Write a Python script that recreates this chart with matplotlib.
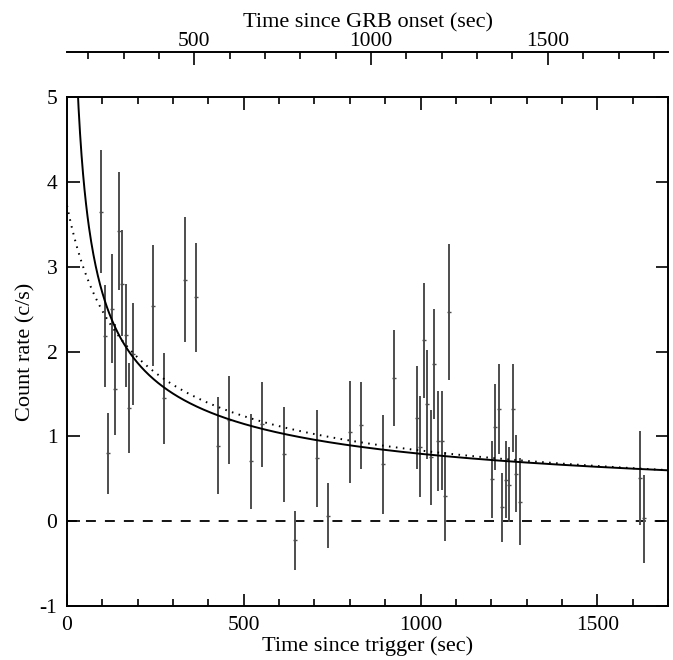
import numpy as np
import matplotlib
matplotlib.use("Agg")
import matplotlib.pyplot as plt

plt.rcParams["font.family"] = ["Liberation Serif", "DejaVu Serif"]

# --------------------------------------------------
# Data
# --------------------------------------------------

t_trig = [96, 107, 116, 126, 136, 147, 156, 166, 175, 186,
          243, 273, 333, 365, 427, 459, 520, 551, 613, 645,
          707, 738, 801, 832, 894, 926, 989, 999, 1009, 1019,
          1030, 1039, 1049, 1060, 1069, 1080, 1201, 1211, 1221, 1231,
          1241, 1250, 1261, 1270, 1281, 1621, 1631]

rate = [3.65, 2.18, 0.80, 2.50, 1.56, 3.42, 2.79, 2.19, 1.34, 1.97,
        2.54, 1.45, 2.84, 2.64, 0.89, 1.19, 0.71, 1.15, 0.79, -0.22,
        0.75, 0.06, 1.05, 1.13, 0.67, 1.69, 1.22, 0.88, 2.13, 1.38,
        0.76, 1.85, 0.94, 0.95, 0.30, 2.47, 0.50, 1.11, 1.32, 0.17,
        0.48, 0.43, 1.32, 0.56, 0.23, 0.51, 0.04]

rate_hi = [4.37, 2.78, 1.28, 3.15, 2.33, 4.12, 3.43, 2.80, 1.86, 2.57,
           3.25, 1.98, 3.58, 3.28, 1.46, 1.71, 1.26, 1.64, 1.35, 0.12,
           1.31, 0.45, 1.65, 1.64, 1.25, 2.25, 1.83, 1.47, 2.81, 2.02,
           1.31, 2.50, 1.53, 1.54, 0.82, 3.27, 0.95, 1.62, 1.85, 0.57,
           0.94, 0.87, 1.85, 1.01, 0.74, 1.06, 0.55]

rate_lo = [2.93, 1.58, 0.32, 1.86, 1.01, 2.72, 2.18, 1.58, 0.80, 1.37,
           1.83, 0.91, 2.11, 2.00, 0.32, 0.67, 0.14, 0.64, 0.23, -0.57,
           0.17, -0.32, 0.45, 0.62, 0.09, 1.12, 0.61, 0.29, 1.45, 0.73,
           0.19, 1.20, 0.35, 0.37, -0.23, 1.66, 0.04, 0.60, 0.79, -0.24,
           0.04, -0.01, 0.81, 0.11, -0.28, -0.04, -0.49]

# model curves (power laws)
pl_trig_norm, pl_trig_index = 30.9, 0.53          # vs time since trigger
pl_on_rate0, pl_on_t0, pl_on_index = 3.72, 120.0, 0.67  # vs shifted time

onset_offset = 140   # GRB onset precedes trigger by ~140 s

t = np.array(t_trig, dtype=float)
y = np.array(rate)
yerr = [y - np.array(rate_lo), np.array(rate_hi) - y]

# --------------------------------------------------
# Plot
# --------------------------------------------------

fig = plt.figure(figsize=(6.73, 6.60), dpi=100)
ax = fig.add_axes([0.0996, 0.0818, 0.893, 0.7712])

ax.errorbar(t, y, yerr=yerr, fmt="_", color="#4d4d4d",
            ecolor="#4d4d4d", elinewidth=1.4, markersize=3.5,
            capsize=0, zorder=2)

tt = np.linspace(20, 1700, 800)
ax.plot(tt, pl_trig_norm * tt ** (-pl_trig_index),
        color="black", lw=1.4, zorder=3)

td = np.linspace(0, 1700, 800)
ax.plot(td, pl_on_rate0 * ((td + pl_on_t0) / pl_on_t0) ** (-pl_on_index),
        color="black", lw=1.4, linestyle=(0, (0.8, 2.8)), zorder=3)

ax.axhline(0, xmin=0, xmax=1, color="black", lw=1.3,
           linestyle=(0, (5.5, 5.0)), zorder=1)

ax.set_xlim(0, 1700)
ax.set_ylim(-1, 5)
ax.set_xticks([0, 500, 1000, 1500])
ax.set_xticks(np.arange(0, 1701, 100), minor=True)
ax.set_yticks(np.arange(-1, 6, 1))
ax.set_yticklabels([str(v) for v in range(-1, 6)])

ax.tick_params(axis="both", which="major", direction="in", length=9,
               width=1.2, labelsize=15.5, top=True, right=True, pad=7)
ax.tick_params(axis="x", which="minor", direction="in", length=5,
               width=1.2, top=True)
for s in ax.spines.values():
    s.set_linewidth(1.4)

ax.set_xlabel("Time since trigger (sec)", fontsize=16, labelpad=1)
ax.set_ylabel("Count rate (c/s)", fontsize=16, labelpad=3)

# top axis: time since GRB onset
sec = ax.secondary_xaxis(1.088, functions=(lambda x: x + onset_offset,
                                           lambda x: x - onset_offset))
sec.set_xticks([500, 1000, 1500])
sec.set_xticks(np.arange(200, 1801, 100), minor=True)
sec.tick_params(axis="x", which="major", direction="in", length=9,
                width=1.2, labelsize=15.5, pad=1)
sec.tick_params(axis="x", which="minor", direction="in", length=5,
                width=1.2)
sec.spines["top"].set_linewidth(1.4)
sec.set_xlabel("Time since GRB onset (sec)", fontsize=16, labelpad=3)

fig.savefig("out.png", dpi=100)
